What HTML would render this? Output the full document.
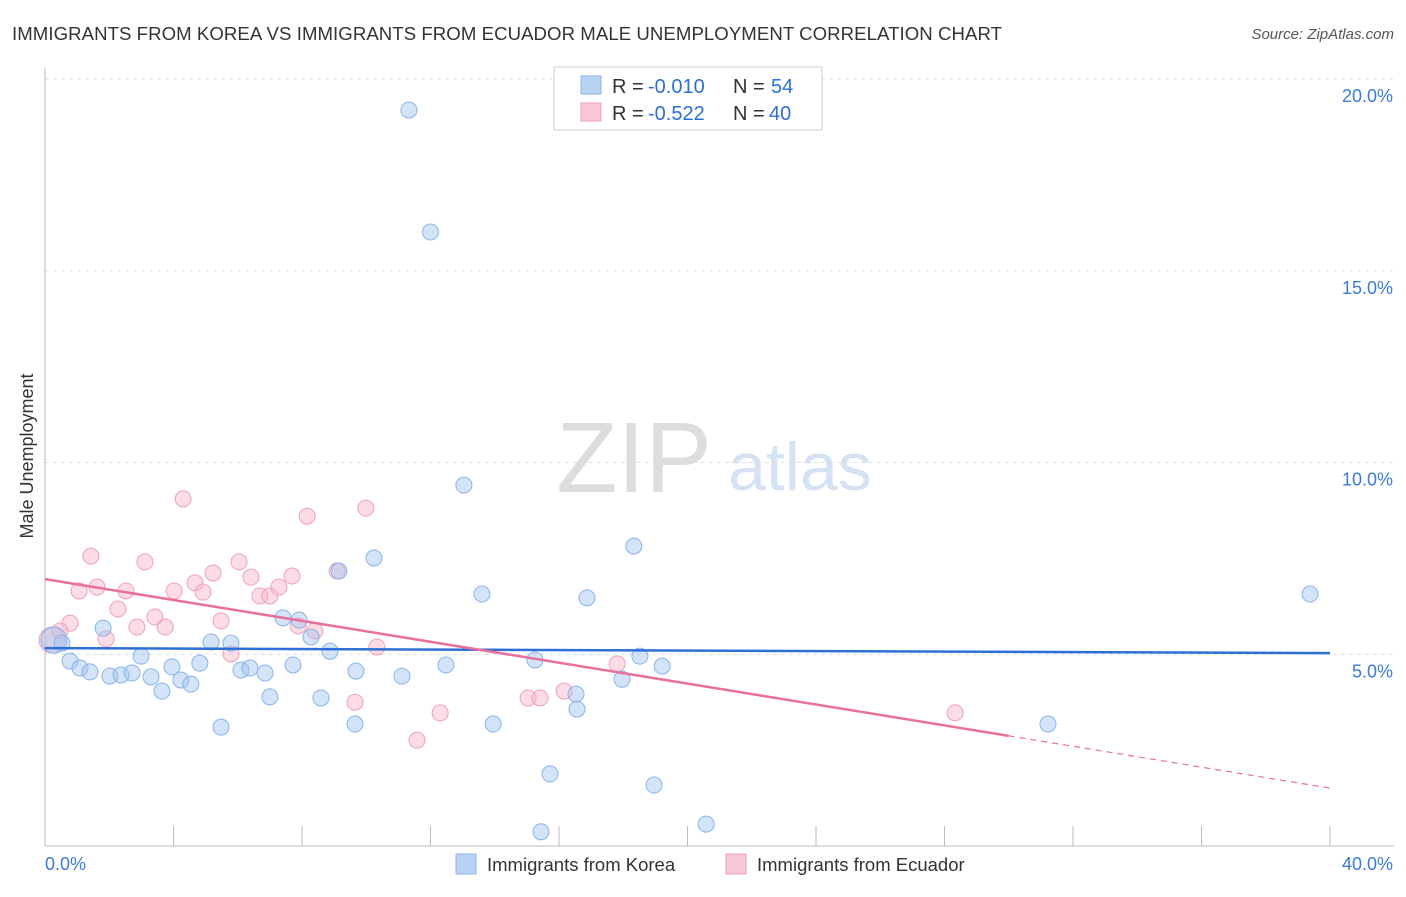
<!DOCTYPE html>
<html><head><meta charset="utf-8"><style>
body{margin:0;background:#fff;font-family:"Liberation Sans",sans-serif;}
svg text{font-family:"Liberation Sans",sans-serif;}
</style></head><body>
<svg id="chart" width="1406" height="892" xmlns="http://www.w3.org/2000/svg">
<text x="12" y="40" font-size="18.6" fill="#333" textLength="990">IMMIGRANTS FROM KOREA VS IMMIGRANTS FROM ECUADOR MALE UNEMPLOYMENT CORRELATION CHART</text>
<text x="1394" y="39" font-size="15" fill="#555" font-style="italic" text-anchor="end">Source: ZipAtlas.com</text>
<text x="634" y="492" font-size="100" fill="#ddd" font-family="Liberation Serif" text-anchor="middle">ZIP</text>
<text x="800" y="490" font-size="68" fill="#d4e2f4" text-anchor="middle">atlas</text>
<text x="33" y="456" font-size="18" fill="#333" text-anchor="middle" transform="rotate(-90 33 456)">Male Unemployment</text>
<g id="grid"></g><g id="axes"></g><g id="marks"></g>
<g>
<rect x="554" y="67" width="268" height="63" fill="#fff" stroke="#ccc"/>
<rect x="581" y="76" width="20" height="18" fill="#b9d3f5" stroke="#8ab4e8"/>
<rect x="581" y="103" width="20" height="18" fill="#f9c6d5" stroke="#f0a0b8"/>
<text x="612" y="93" font-size="20" fill="#333">R =</text>
<text x="648" y="93" font-size="20" fill="#2c6fd6">-0.010</text>
<text x="733" y="93" font-size="20" fill="#333">N =</text>
<text x="771" y="93" font-size="20" fill="#2c6fd6">54</text>
<text x="612" y="120" font-size="20" fill="#333">R =</text>
<text x="648" y="120" font-size="20" fill="#2c6fd6">-0.522</text>
<text x="733" y="120" font-size="20" fill="#333">N =</text>
<text x="769" y="120" font-size="20" fill="#2c6fd6">40</text>
</g>
<g>
<rect x="456" y="854" width="20" height="20" fill="#b9d3f5" stroke="#8ab4e8"/>
<text x="487" y="871" font-size="18.5" fill="#333">Immigrants from Korea</text>
<rect x="726" y="854" width="20" height="20" fill="#f9c6d5" stroke="#f0a0b8"/>
<text x="757" y="871" font-size="18.5" fill="#333">Immigrants from Ecuador</text>
</g>
</svg>
<script>
const koreaX=[11.33,12.0,13.04,10.24,9.15,18.33,13.60,16.87,39.38,1.81,5.17,5.79,7.41,7.91,8.28,8.87,2.99,0.28,0.53,0.78,1.09,1.40,2.02,2.37,2.71,3.30,3.64,3.95,4.23,4.54,4.82,6.10,6.38,6.85,7.00,7.72,8.59,9.68,9.65,11.11,12.48,13.95,15.25,15.72,16.53,16.56,17.96,18.52,19.21,18.96,20.58,15.44,5.48,31.22];
const koreaY=[19.19,16.01,9.41,7.51,7.17,7.82,6.57,6.47,6.57,5.68,5.32,5.29,5.95,5.89,5.45,5.08,4.95,5.37,5.29,4.82,4.64,4.54,4.43,4.46,4.51,4.41,4.04,4.67,4.33,4.22,4.77,4.59,4.64,4.51,3.89,4.72,3.86,4.56,3.18,4.43,4.72,3.18,4.85,1.88,3.96,3.57,4.35,4.95,4.69,1.59,0.57,0.37,3.10,3.18];
const ecuadorX=[4.30,8.16,9.99,1.43,3.11,6.04,5.23,6.41,7.69,9.09,4.67,1.06,1.62,2.52,4.02,4.92,6.69,7.00,7.28,2.27,3.42,5.48,2.86,3.74,0.78,0.47,7.88,8.40,1.90,5.79,10.33,17.81,9.65,12.30,15.04,15.41,16.16,11.58,28.33,0.22];
const ecuadorY=[9.05,8.60,8.81,7.56,7.41,7.41,7.12,7.01,7.04,7.17,6.86,6.65,6.75,6.65,6.65,6.62,6.52,6.52,6.75,6.18,5.97,5.87,5.71,5.71,5.81,5.61,5.74,5.61,5.40,5.01,5.19,4.75,3.75,3.47,3.86,3.86,4.04,2.76,3.47,5.37];
const koreaTrend=[5.16,5.03];
const ecuadorTrend=[6.96,1.51];
const ecuadorSolidEnd=30.0;
const yTicks=[5,10,15,20];
const yTickLabels=["5.0%","10.0%","15.0%","20.0%"];
const xTicks=[0,4,8,12,16,20,24,28,32,36,40];
const NS="http://www.w3.org/2000/svg";
const X=v=>45+v*32.125, Y=v=>846-v*38.35;
function mk(parent,tag,attrs){const e=document.createElementNS(NS,tag);for(const k in attrs)e.setAttribute(k,attrs[k]);document.getElementById(parent).appendChild(e);return e;}
yTicks.forEach((t,i)=>{
  const l=mk('grid','line',{x1:45,x2:1394,y1:Y(t),y2:Y(t),stroke:'#ddd','stroke-dasharray':'4,4'});
  
  
  const tx=mk('grid','text',{x:1393,y:Y(t)+23,'font-size':18,fill:'#3a7bd5','text-anchor':'end'});
  tx.textContent=yTickLabels[i];
  
  
});
const ax=mk('axes','line',{x1:45,x2:45,y1:68,y2:846,stroke:'#bbb'});


const bx=mk('axes','line',{x1:45,x2:1394,y1:846,y2:846,stroke:'#bbb'});


xTicks.forEach(t=>{
  const l=mk('axes','line',{x1:X(t),x2:X(t),y1:826,y2:846,stroke:'#bbb'});
  
  
});
const x0=mk('axes','text',{x:45,y:870,'font-size':18,fill:'#3a7bd5'});x0.textContent='0.0%';


const x1=mk('axes','text',{x:1393,y:870,'font-size':18,fill:'#3a7bd5','text-anchor':'end'});x1.textContent='40.0%';


function dots(xs,ys,fill,stroke,name){
  xs.forEach((x,i)=>{
    const c=mk('marks','circle',{cx:X(x),cy:Y(ys[i]),r:(i===xs.length-1&&name==='ecuador-point')||(i===17&&name==='korea-point')?13:8,fill:fill,stroke:stroke,'stroke-width':1});
    
    
  });
}
dots(ecuadorX,ecuadorY,'rgba(248,180,200,0.45)','#f0a0b8','ecuador-point');
dots(koreaX,koreaY,'rgba(160,196,240,0.45)','#8ab4e8','korea-point');
const kt=mk('marks','line',{x1:X(0),y1:Y(koreaTrend[0]),x2:X(40),y2:Y(koreaTrend[1]),stroke:'#2c6fd6','stroke-width':2.5});


const ey=x=>ecuadorTrend[0]+(ecuadorTrend[1]-ecuadorTrend[0])*x/40;
const et=mk('marks','line',{x1:X(0),y1:Y(ey(0)),x2:X(ecuadorSolidEnd),y2:Y(ey(ecuadorSolidEnd)),stroke:'#e8709a','stroke-width':2.5});


const ed=mk('marks','line',{x1:X(ecuadorSolidEnd),y1:Y(ey(ecuadorSolidEnd)),x2:X(40),y2:Y(ey(40)),stroke:'#e8709a','stroke-width':1.2,'stroke-dasharray':'6,5'});


</script>
</body></html>
